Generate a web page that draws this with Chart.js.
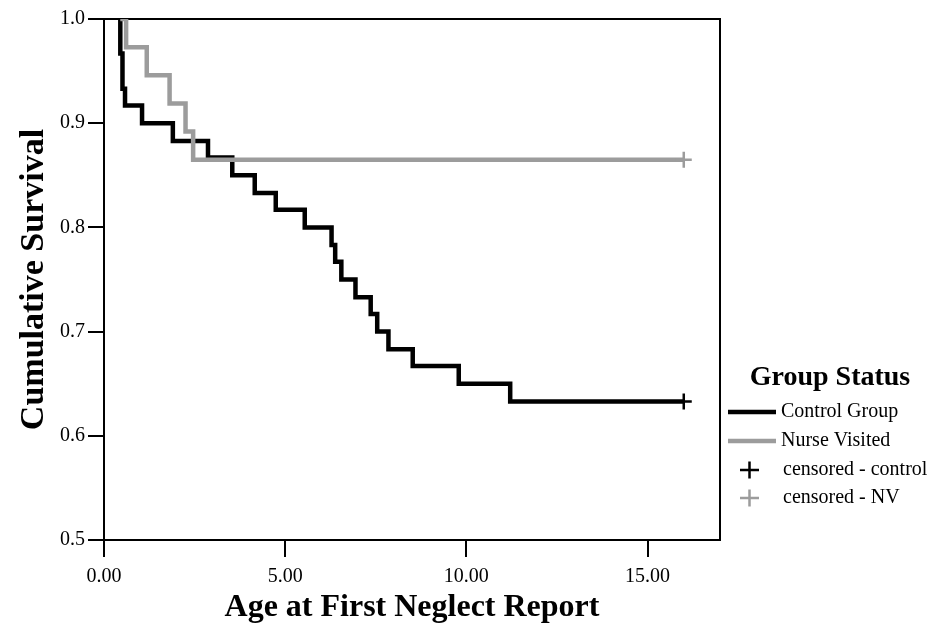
<!DOCTYPE html>
<html>
<head>
<meta charset="utf-8">
<title>Cumulative Survival</title>
<script src="https://cdn.jsdelivr.net/npm/chart.js@4/dist/chart.umd.min.js"></script>
<style>
  body { margin: 0; background: #fff; }
  #wrap { width: 941px; height: 630px; }
</style>
</head>
<body>
<div id="wrap"><canvas id="kmChart" width="941" height="630"></canvas></div>
<script>
// data
const controlTimes = [0.45, 0.45, 0.51, 0.58, 1.05, 1.90, 2.87, 3.54, 4.16, 4.74, 5.54, 6.28, 6.38, 6.55, 6.94, 7.36, 7.54, 7.85, 8.52, 9.79, 11.21, 16.0];
const controlSurv  = [1.0, 0.967, 0.933, 0.917, 0.9, 0.883, 0.867, 0.85, 0.833, 0.817, 0.8, 0.783, 0.767, 0.75, 0.733, 0.717, 0.7, 0.683, 0.667, 0.65, 0.633, 0.633];
const nurseTimes = [0.45, 0.61, 1.18, 1.81, 2.25, 2.46, 16.0];
const nurseSurv  = [1.0, 0.973, 0.946, 0.919, 0.892, 0.865, 0.865];
const censoredControl = [{x: 16.0, y: 0.633}];
const censoredNurse   = [{x: 16.0, y: 0.865}];

const xTicks = [0, 5, 10, 15];
const yTicks = [0.5, 0.6, 0.7, 0.8, 0.9, 1.0];

const legendTitle = 'Group Status';
const serif = "'Liberation Serif', 'Times New Roman', 'DejaVu Serif', serif";
const black = '#000000';
const grey = '#9c9c9c';

function toPoints(xs, ys) {
    return xs.map((x, i) => ({x: x, y: ys[i]}));
}

// top and right sides of the frame
const framePlugin = {
    id: 'frame',
    beforeDatasetsDraw(chart) {
        const {ctx, chartArea: a} = chart;
        ctx.save();
        ctx.strokeStyle = black;
        ctx.lineWidth = 2;
        ctx.beginPath();
        ctx.moveTo(a.left, a.top);
        ctx.lineTo(a.right, a.top);
        ctx.lineTo(a.right, a.bottom);
        ctx.stroke();
        ctx.restore();
    }
};

// legend on the right, SPSS style
const legendPlugin = {
    id: 'kmLegend',
    afterDraw(chart) {
        const ctx = chart.ctx;
        ctx.save();
        ctx.fillStyle = black;
        ctx.textBaseline = 'middle';
        ctx.textAlign = 'center';
        ctx.font = 'bold 28px ' + serif;
        ctx.fillText(legendTitle, 830, 378);

        ctx.textAlign = 'left';
        ctx.font = '20px ' + serif;
        const rows = [412, 441, 470, 498];
        chart.data.datasets.forEach((ds, i) => {
            const y = rows[ds.legendRow];
            ctx.strokeStyle = ds.borderColor;
            if (ds.showLine === false) {
                ctx.lineWidth = 2.5;
                ctx.beginPath();
                ctx.moveTo(740, y); ctx.lineTo(759, y);
                ctx.moveTo(749.5, y - 8.5); ctx.lineTo(749.5, y + 8.5);
                ctx.stroke();
                ctx.fillText(ds.label, 783, y);
            } else {
                ctx.lineWidth = 4.5;
                ctx.beginPath();
                ctx.moveTo(728, y); ctx.lineTo(776, y);
                ctx.stroke();
                ctx.fillText(ds.label, 781, y);
            }
        });
        ctx.restore();
    }
};

const ctx = document.getElementById('kmChart').getContext('2d');
const kmChart = new Chart(ctx, {
    type: 'line',
    data: {
        datasets: [
            {
                label: 'Control Group',
                data: toPoints(controlTimes, controlSurv),
                borderColor: black,
                borderWidth: 4.5,
                stepped: 'before',
                pointRadius: 0,
                fill: false,
                order: 2,
                legendRow: 0
            },
            {
                label: 'Nurse Visited',
                data: toPoints(nurseTimes, nurseSurv),
                borderColor: grey,
                borderWidth: 4.5,
                stepped: 'before',
                pointRadius: 0,
                fill: false,
                order: 1,
                legendRow: 1
            },
            {
                label: 'censored - control',
                data: censoredControl,
                showLine: false,
                borderColor: black,
                pointStyle: 'cross',
                pointRadius: 8,
                pointBorderWidth: 2.5,
                order: 0,
                legendRow: 2
            },
            {
                label: 'censored - NV',
                data: censoredNurse,
                showLine: false,
                borderColor: grey,
                pointStyle: 'cross',
                pointRadius: 8,
                pointBorderWidth: 2.5,
                order: 0,
                legendRow: 3
            }
        ]
    },
    options: {
        responsive: false,
        animation: false,
        layout: { padding: { top: 19, right: 221, left: 0, bottom: 0 } },
        plugins: {
            legend: { display: false },
            tooltip: { enabled: false }
        },
        scales: {
            x: {
                type: 'linear',
                min: 0,
                max: 17,
                afterFit: s => { s.height = 90; },
                afterBuildTicks: s => { s.ticks = xTicks.map(v => ({value: v})); },
                grid: { drawOnChartArea: false, tickLength: 17, color: black, lineWidth: 2 },
                border: { color: black, width: 2 },
                ticks: {
                    color: black,
                    padding: 8,
                    maxRotation: 0,
                    font: { family: serif, size: 20 },
                    callback: v => v.toFixed(2)
                },
                title: {
                    display: true,
                    text: 'Age at First Neglect Report',
                    color: black,
                    font: { family: serif, size: 32, weight: 'bold' },
                    padding: { top: 0, bottom: 3 }
                }
            },
            y: {
                type: 'linear',
                min: 0.5,
                max: 1.0,
                afterFit: s => { s.width = 104; },
                afterBuildTicks: s => { s.ticks = yTicks.map(v => ({value: v})); },
                grid: { drawOnChartArea: false, tickLength: 16, color: black, lineWidth: 2 },
                border: { color: black, width: 2 },
                ticks: {
                    color: black,
                    padding: 3,
                    font: { family: serif, size: 20 },
                    callback: v => v.toFixed(1)
                },
                title: {
                    display: true,
                    text: 'Cumulative Survival',
                    color: black,
                    font: { family: serif, size: 34, weight: 'bold' },
                    padding: { top: 14, bottom: 0 }
                }
            }
        }
    },
    plugins: [framePlugin, legendPlugin]
});
</script>
</body>
</html>
